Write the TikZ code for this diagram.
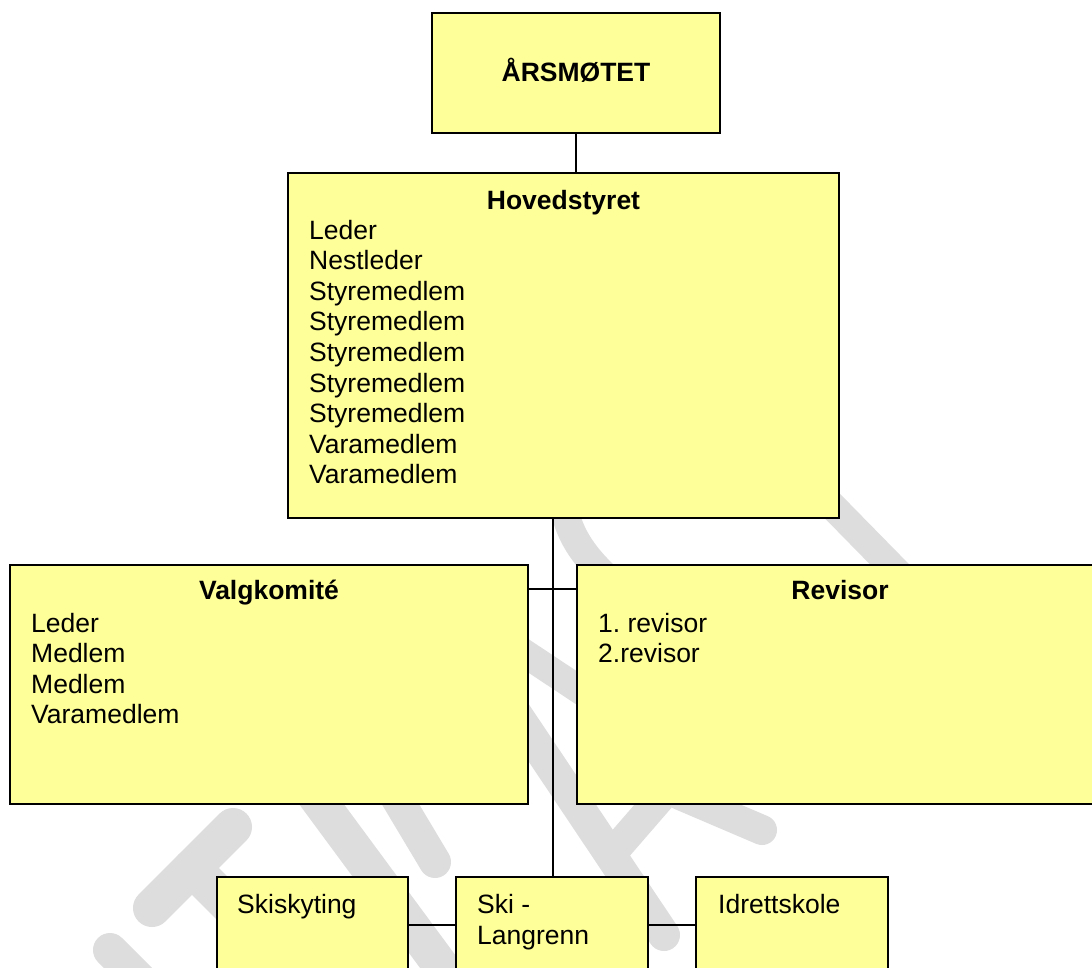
\documentclass[tikz,border=0pt]{standalone}
\usepackage{fontspec}
\setmainfont{Liberation Sans}
\definecolor{boxfill}{HTML}{FFFF99}
\definecolor{wm}{HTML}{DDDDDD}
\frenchspacing
\begin{document}
\begin{tikzpicture}[x=1pt,y=-1pt,
  box/.style={draw=black, line width=1.7pt, fill=boxfill, anchor=north west, inner sep=0pt, outer sep=0pt},
  conn/.style={draw=black, line width=1.3pt},
  wmark/.style={draw=wm, line width=#1, line cap=round},
  wmark/.default=32pt,
  item/.style={anchor=base west, inner sep=0pt, font=\fontsize{26.5}{30}\selectfont},
  ttl/.style={anchor=base, inner sep=0pt, font=\fontsize{26.5}{30}\selectfont\bfseries}]
\useasboundingbox (0,0) rectangle (1092,967);
\fill[white] (0,0) rectangle (1092,967);
\clip (0,0) rectangle (1092,967);

% watermark strokes
\draw[wmark=38pt] (152,908) -- (233,827);
\draw[wmark=38pt] (192,868) -- (290,966);
\draw[wmark=34pt] (110,950) -- (170,1010);
\draw[wmark=36pt] (300,775) -- (455,985);
\draw[wmark] (380,770) -- (435,862);
\draw[wmark] (500,690) -- (664,935);
\draw[wmark=28pt] (500,637) -- (610,710);
\draw[wmark=30pt] (615,850) -- (680,775);
\draw[wmark=30pt] (680,795) -- (762,830);
\draw[wmark=28pt] (800,473) -- (900,575);
\draw[wmark=28pt] (562,490) .. controls (564,530) and (582,556) .. (615,585);

% boxes
\node[box, minimum width=288pt, minimum height=120pt] (ars) at (432,13) {};
\node[box, minimum width=551pt, minimum height=345pt] (hs) at (288,173) {};
\node[box, minimum width=518pt, minimum height=239pt] (vk) at (10,565) {};
\node[box, minimum width=527pt, minimum height=239pt] (rv) at (577,565) {};
\node[box, minimum width=191pt, minimum height=130pt] (sk) at (217,877) {};
\node[box, minimum width=192pt, minimum height=130pt] (sl) at (456,877) {};
\node[box, minimum width=192pt, minimum height=130pt] (id) at (696,877) {};

% connectors
\coordinate (tk) at (553,518);
\coordinate (hl) at (528,589);
\coordinate (bl) at (408,925);
\draw[conn] (ars.south) -- (ars.south |- hs.north);
\draw[conn] (tk) -- (tk |- sl.north);
\draw[conn] (hl -| vk.east) -- (hl -| rv.west);
\draw[conn] (bl -| sk.east) -- (bl -| sl.west);
\draw[conn] (bl -| sl.east) -- (bl -| id.west);

% titles
\node[ttl] (t0) at (576,81) {ÅRSMØTET};
\node[ttl] (t1) at (563.5,209) {Hovedstyret};
\node[ttl] (t2) at (269,599) {Valgkomité};
\node[ttl] (t3) at (840,599) {Revisor};

% Hovedstyret list
\foreach \t [count=\i] in {Leder,Nestleder,Styremedlem,Styremedlem,Styremedlem,Styremedlem,Styremedlem,Varamedlem,Varamedlem}
  \node[item] (h\i) at (309,{239+30.6*(\i-1)}) {\t};

% Valgkomite list
\foreach \t [count=\i] in {Leder,Medlem,Medlem,Varamedlem}
  \node[item] (v\i) at (31,{632+30.6*(\i-1)}) {\t};

% Revisor list
\node[item] (r1) at (598,632) {1. revisor};
\node[item] (r2) at (598,662.6) {2.revisor};

% bottom boxes
\node[item] (s1) at (237,913) {Skiskyting};
\node[item] (l1) at (477,913) {Ski -};
\node[item] (l2) at (477,944) {Langrenn};
\node[item] (i1) at (718,913) {Idrettskole};
\end{tikzpicture}
\end{document}
